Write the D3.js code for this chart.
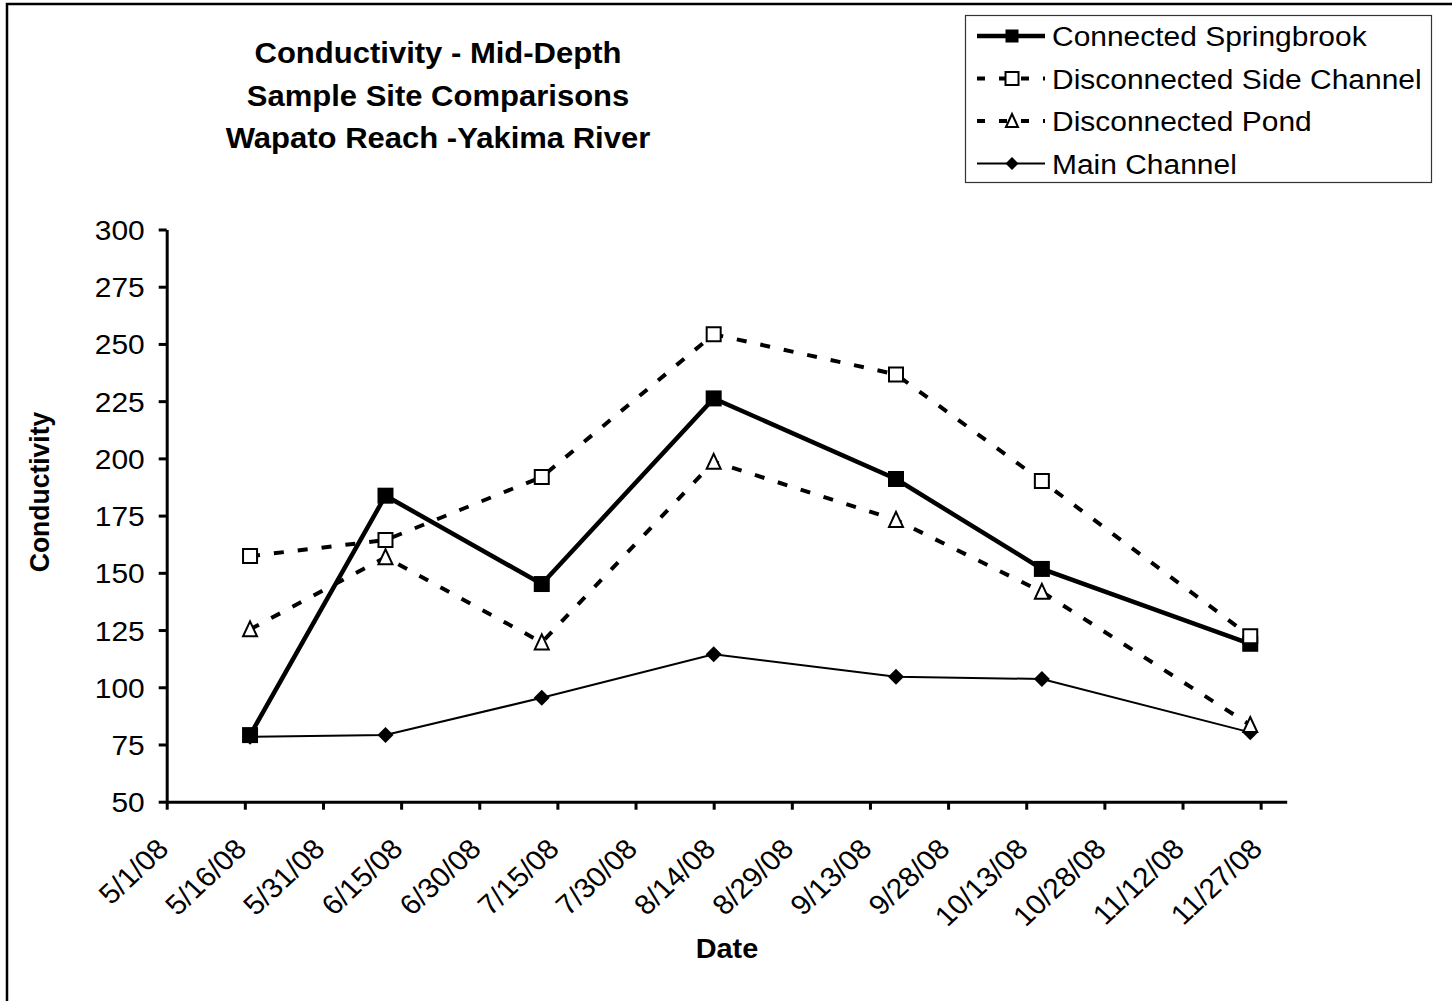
<!DOCTYPE html>
<html>
<head>
<meta charset="utf-8">
<script src="https://cdn.jsdelivr.net/npm/d3@7"></script>
<style>
    body { margin: 0; background: #fff; }
    svg { display: block; font-family: "Liberation Sans", Arial, sans-serif; }
</style>
</head>
<body>
<div class="graph"></div>
<script>
// sample dates and values
const sampleDates = ["2008-05-17", "2008-06-12", "2008-07-12", "2008-08-14", "2008-09-18", "2008-10-16", "2008-11-25"];
const springbrook = [79.1, 183.7, 145.1, 226.2, 191.0, 151.7, 119.0];
const sideChannel = [157.3, 164.3, 191.9, 254.2, 236.7, 190.1, 122.3];
const pond = [125.3, 156.8, 119.6, 198.5, 173.1, 141.7, 83.5];
const mainChannel = [78.4, 79.1, 95.4, 114.4, 104.6, 103.6, 80.3];

const yTicks = [50, 75, 100, 125, 150, 175, 200, 225, 250, 275, 300];
const xTickOffsets = [0, 15, 30, 45, 60, 75, 90, 105, 120, 135, 150, 165, 180, 195, 210];
const titleLines = ["Conductivity - Mid-Depth", "Sample Site Comparisons", "Wapato Reach -Yakima River"];
const seriesNames = ["Connected Springbrook", "Disconnected Side Channel", "Disconnected Pond", "Main Channel"];

const W = 1452, H = 1001;
const sx = 1.07; // the picture is a touch wider than tall

const svg = d3.select(".graph").append("svg")
    .attr("width", W)
    .attr("height", H);

svg.append("rect")
    .attr("x", 7).attr("y", 4)
    .attr("width", W).attr("height", H)
    .attr("fill", "none")
    .attr("stroke", "#000")
    .attr("stroke-width", 2.5);

const start = new Date(Date.UTC(2008, 4, 1));
const x = d3.scaleUtc()
    .domain([start, d3.utcDay.offset(start, 215)])
    .range([166.7, 1286.7]);
const y = d3.scaleLinear()
    .domain([50, 300])
    .range([801.7, 229.5]);

const parse = d3.utcParse("%Y-%m-%d");
const dates = sampleDates.map(parse);

// axes
const xAxis = svg.append("g")
    .attr("transform", `translate(0,${y(50)})`)
    .call(d3.axisBottom(x)
        .tickValues(xTickOffsets.map(d => d3.utcDay.offset(start, d)))
        .tickFormat(d3.utcFormat("%-m/%-d/%y"))
        .tickSize(8)
        .tickSizeOuter(0));
xAxis.selectAll("text")
    .attr("x", 0).attr("y", 0).attr("dy", 0)
    .attr("text-anchor", "end")
    .attr("transform", `translate(3,49) scale(${sx},1) rotate(-45)`);

const yAxis = svg.append("g")
    .attr("transform", `translate(${x(start)},0)`)
    .call(d3.axisLeft(y)
        .tickValues(yTicks)
        .tickSize(8)
        .tickSizeOuter(0));
yAxis.selectAll("text")
    .attr("x", 0).attr("dy", 0).attr("y", 10)
    .attr("text-anchor", "end")
    .attr("transform", `translate(-22,0) scale(${sx},1)`);

svg.selectAll(".domain, .tick line")
    .attr("stroke", "#000")
    .attr("stroke-width", 3);
svg.selectAll(".tick text")
    .attr("fill", "#000")
    .attr("font-size", 28)
    .attr("font-family", "Liberation Sans, Arial, sans-serif");

// titles
svg.append("g").selectAll("text")
    .data(titleLines)
    .join("text")
    .attr("text-anchor", "middle")
    .attr("font-size", 29)
    .attr("font-weight", "bold")
    .attr("transform", (d, i) => `translate(438,${63 + i * 42.5}) scale(${sx},1)`)
    .text(d => d);

svg.append("text")
    .attr("text-anchor", "middle")
    .attr("font-size", 27)
    .attr("font-weight", "bold")
    .attr("transform", `translate(727,958) scale(${sx},1)`)
    .text("Date");

svg.append("text")
    .attr("text-anchor", "middle")
    .attr("font-size", 26.5)
    .attr("font-weight", "bold")
    .attr("transform", `translate(49,492) scale(${sx},1) rotate(-90)`)
    .text("Conductivity");

// marker shapes
function square(s) {
    return `M${-s / 2},${-s / 2}h${s}v${s}h${-s}Z`;
}
function triangle(s) {
    return `M0,${-s / 2 - 1}L${s / 2},${s / 2}L${-s / 2},${s / 2}Z`;
}
function diamond(s) {
    return `M0,${-s / 2}L${s / 2},0L0,${s / 2}L${-s / 2},0Z`;
}

const series = [
    { name: seriesNames[3], values: mainChannel, width: 2, dash: null, shape: diamond, size: 16, fill: "#000", stroke: "none" },
    { name: seriesNames[0], values: springbrook, width: 4.5, dash: null, shape: square, size: 16, fill: "#000", stroke: "none" },
    { name: seriesNames[1], values: sideChannel, width: 4, dash: "10,14", shape: square, size: 14, fill: "#fff", stroke: "#000" },
    { name: seriesNames[2], values: pond, width: 4, dash: "10,14", shape: triangle, size: 14, fill: "#fff", stroke: "#000" }
];

const line = d3.line()
    .x((d, i) => x(dates[i]))
    .y(d => y(d));

series.forEach(s => {
    svg.append("path")
        .datum(s.values)
        .attr("d", line)
        .attr("fill", "none")
        .attr("stroke", "#000")
        .attr("stroke-width", s.width)
        .attr("stroke-dasharray", s.dash);
});

series.forEach(s => {
    svg.append("g").selectAll("path")
        .data(s.values)
        .join("path")
        .attr("transform", (d, i) => `translate(${x(dates[i])},${y(d)})`)
        .attr("d", s.shape(s.size))
        .attr("fill", s.fill)
        .attr("stroke", s.stroke)
        .attr("stroke-width", 2);
});

// legend
const legend = svg.append("g");
legend.append("rect")
    .attr("x", 965.5).attr("y", 15.5)
    .attr("width", 466).attr("height", 167)
    .attr("fill", "#fff")
    .attr("stroke", "#333")
    .attr("stroke-width", 1.2);

const legendOrder = [series[1], series[2], series[3], series[0]];
legendOrder.forEach((s, i) => {
    const ly = 36 + i * 42.5;
    legend.append("line")
        .attr("x1", 977).attr("x2", 1045)
        .attr("y1", ly).attr("y2", ly)
        .attr("stroke", "#000")
        .attr("stroke-width", s.width)
        .attr("stroke-dasharray", s.dash ? "8,14" : null);
    legend.append("path")
        .attr("transform", `translate(1012,${ly})`)
        .attr("d", s.shape(s.shape === triangle ? 12 : 13))
        .attr("fill", s.fill)
        .attr("stroke", s.stroke)
        .attr("stroke-width", 2);
    legend.append("text")
        .attr("font-size", 28)
        .attr("transform", `translate(1052,${ly + 10}) scale(${sx},1)`)
        .text(s.name);
});
</script>
</body>
</html>
